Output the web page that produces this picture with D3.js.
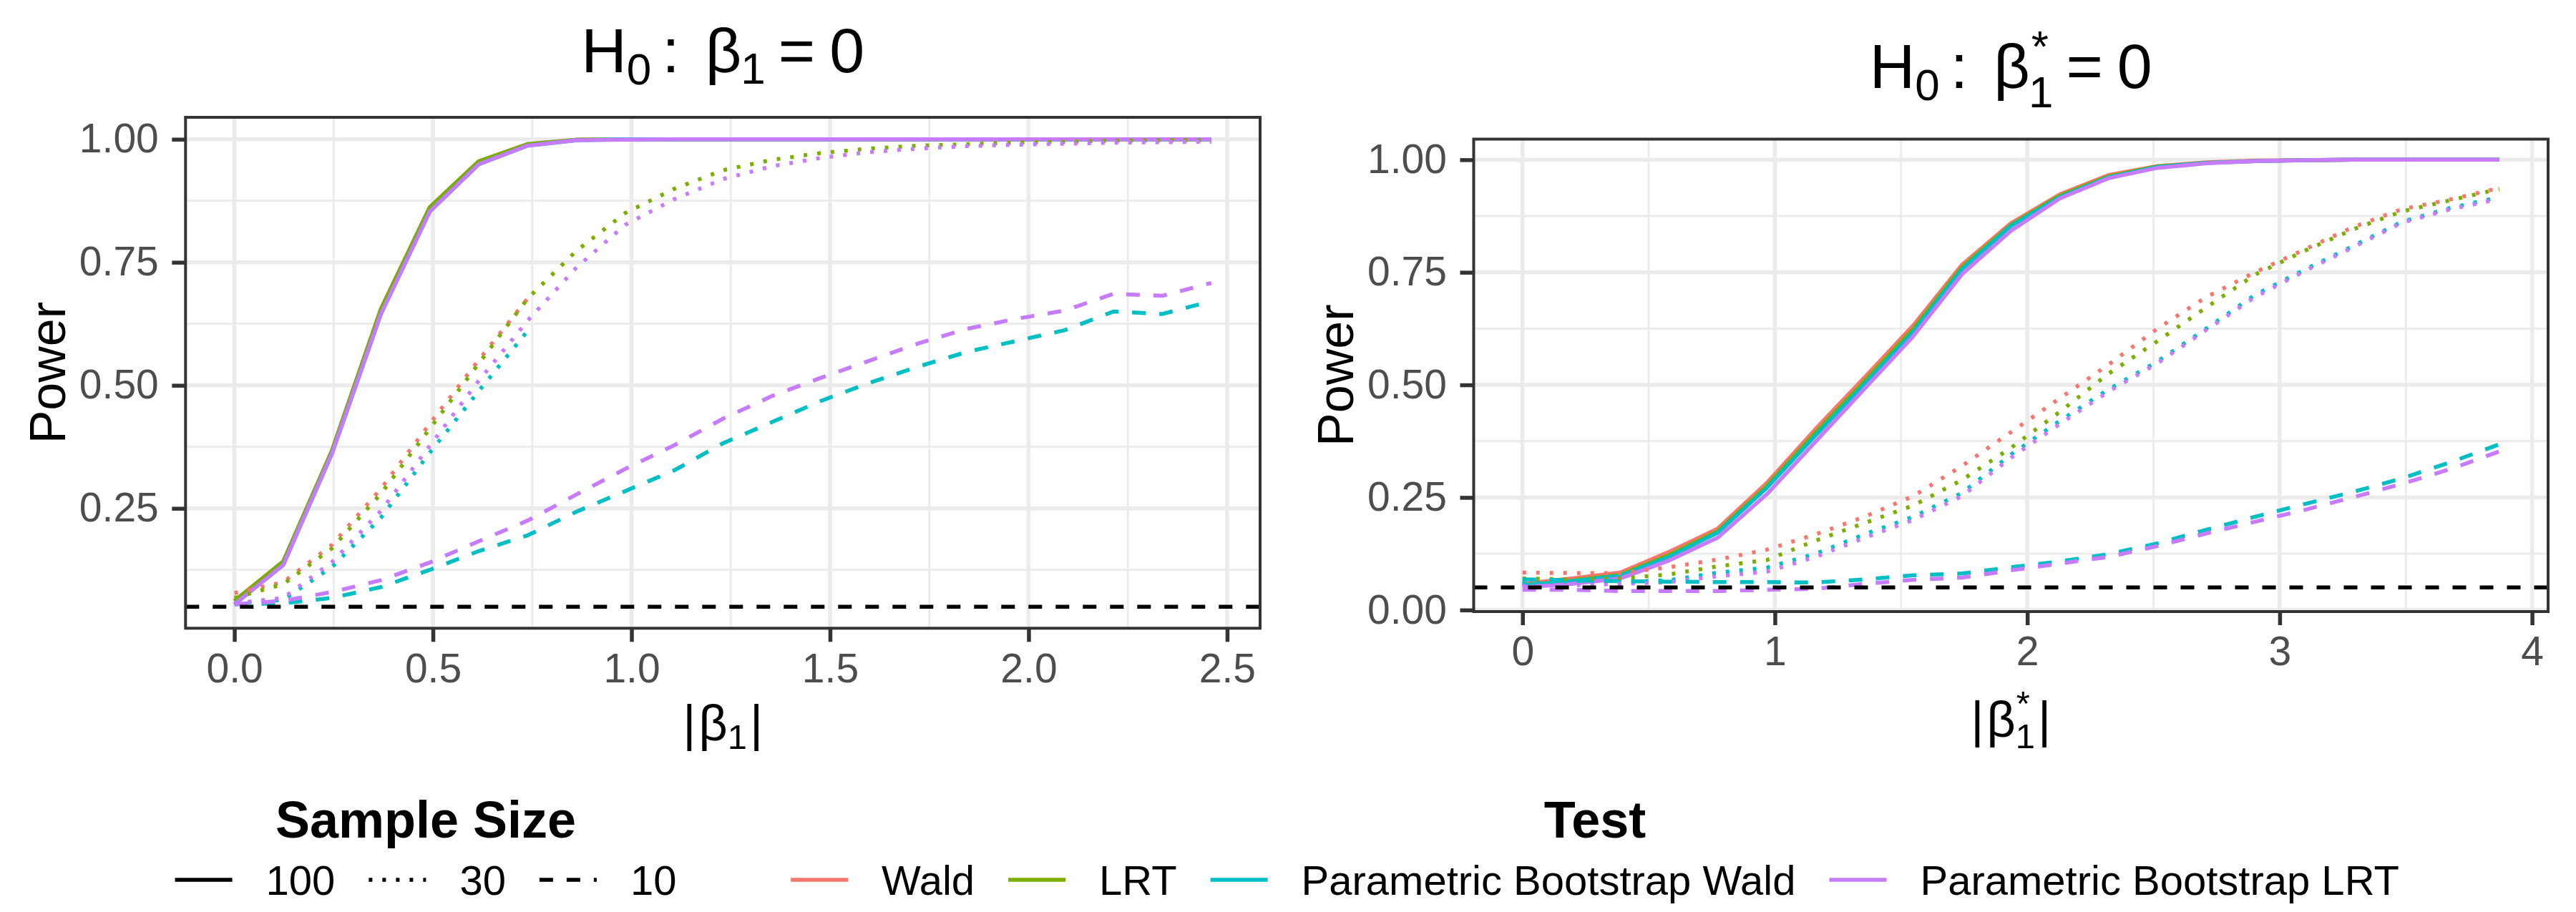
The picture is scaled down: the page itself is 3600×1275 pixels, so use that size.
<!DOCTYPE html>
<html>
<head>
<meta charset="utf-8">
<script src="https://cdn.jsdelivr.net/npm/d3@7"></script>
<style>
  body { margin: 0; background: #fff; }
  svg { display: block; font-family: "Liberation Sans", Arial, Helvetica, sans-serif; }
</style>
</head>
<body>
<svg id="chart" width="3600" height="1275"></svg>
<script>
// x values for each panel
const absBeta1 = [0.000, 0.123, 0.246, 0.369, 0.492, 0.615, 0.738, 0.861, 0.984, 1.107, 1.230,
                  1.353, 1.476, 1.599, 1.722, 1.845, 1.968, 2.091, 2.214, 2.337, 2.460];
const absBeta1Star = [0.0000, 0.1935, 0.3870, 0.5805, 0.7740, 0.9675, 1.1610, 1.3545, 1.5480, 1.7415, 1.9350,
                      2.1285, 2.3220, 2.5155, 2.7090, 2.9025, 3.0960, 3.2895, 3.4830, 3.6765, 3.8700];

const tests = ["Wald", "LRT", "Parametric Bootstrap Wald", "Parametric Bootstrap LRT"];
const sampleSizes = ["100", "30", "10"];
const alpha = 0.05;

// Left panel: H0 beta1 = 0
const leftWald100  = [0.062, 0.142, 0.368, 0.655, 0.862, 0.955, 0.990, 0.999, 1.000, 1.000, 1.000, 1.000, 1.000, 1.000, 1.000, 1.000, 1.000, 1.000, 1.000, 1.000, 1.000];
const leftLRT100   = [0.062, 0.142, 0.368, 0.655, 0.862, 0.955, 0.990, 0.999, 1.000, 1.000, 1.000, 1.000, 1.000, 1.000, 1.000, 1.000, 1.000, 1.000, 1.000, 1.000, 1.000];
const leftPBW100   = [0.055, 0.135, 0.362, 0.645, 0.853, 0.949, 0.987, 0.998, 1.000, 1.000, 1.000, 1.000, 1.000, 1.000, 1.000, 1.000, 1.000, 1.000, 1.000, 1.000, 1.000];
const leftPBLRT100 = [0.055, 0.135, 0.362, 0.645, 0.853, 0.949, 0.987, 0.998, 0.999, 1.000, 1.000, 1.000, 1.000, 1.000, 1.000, 1.000, 1.000, 1.000, 1.000, 1.000, 1.000];
const leftWald30   = [0.078, 0.100, 0.176, 0.290, 0.422, 0.551, 0.676];
const leftLRT30    = [0.068, 0.096, 0.169, 0.280, 0.412, 0.544, 0.676, 0.773, 0.850, 0.899, 0.937, 0.958, 0.972, 0.981, 0.987, 0.990, 0.993, 0.995, 0.997, 0.998, 0.998];
const leftPBW30    = [0.057, 0.064, 0.131, 0.231, 0.363, 0.488, 0.610];
const leftPBLRT30  = [0.057, 0.068, 0.141, 0.245, 0.377, 0.509, 0.631, 0.739, 0.826, 0.878, 0.919, 0.945, 0.962, 0.974, 0.981, 0.986, 0.989, 0.991, 0.993, 0.994, 0.995];
const leftPBW10    = [0.055, 0.057, 0.068, 0.090, 0.125, 0.163, 0.195, 0.243, 0.285, 0.327, 0.382, 0.425, 0.468, 0.505, 0.538, 0.568, 0.590, 0.612, 0.650, 0.645, 0.671];
const leftPBLRT10  = [0.055, 0.062, 0.080, 0.104, 0.140, 0.183, 0.225, 0.278, 0.330, 0.378, 0.432, 0.478, 0.515, 0.550, 0.585, 0.615, 0.635, 0.652, 0.686, 0.682, 0.708];

// Right panel: H0 beta1* = 0
const rightWald100  = [0.058, 0.070, 0.083, 0.129, 0.181, 0.282, 0.402, 0.516, 0.632, 0.767, 0.859, 0.923, 0.966, 0.986, 0.994, 0.998, 0.999, 1.000, 1.000, 1.000, 1.000];
const rightLRT100   = [0.055, 0.065, 0.078, 0.122, 0.175, 0.275, 0.394, 0.508, 0.624, 0.761, 0.855, 0.920, 0.963, 0.985, 0.993, 0.997, 0.999, 1.000, 1.000, 1.000, 1.000];
const rightPBW100   = [0.055, 0.064, 0.076, 0.118, 0.172, 0.271, 0.388, 0.502, 0.618, 0.757, 0.853, 0.917, 0.961, 0.984, 0.993, 0.997, 0.999, 1.000, 1.000, 1.000, 1.000];
const rightPBLRT100 = [0.050, 0.058, 0.070, 0.110, 0.161, 0.257, 0.374, 0.491, 0.608, 0.746, 0.842, 0.914, 0.959, 0.982, 0.992, 0.997, 0.999, 1.000, 1.000, 1.000, 1.000];
const rightWald30   = [0.083, 0.082, 0.082, 0.095, 0.112, 0.134, 0.168, 0.207, 0.253, 0.320, 0.395, 0.470, 0.545, 0.625, 0.695, 0.750, 0.800, 0.850, 0.890, 0.912, 0.937];
const rightLRT30    = [0.070, 0.068, 0.070, 0.079, 0.097, 0.111, 0.154, 0.193, 0.232, 0.289, 0.360, 0.440, 0.525, 0.597, 0.672, 0.745, 0.797, 0.845, 0.885, 0.910, 0.935];
const rightPBW30    = [0.060, 0.060, 0.062, 0.066, 0.083, 0.094, 0.125, 0.168, 0.207, 0.260, 0.345, 0.420, 0.490, 0.552, 0.625, 0.700, 0.755, 0.808, 0.862, 0.893, 0.917];
const rightPBLRT30  = [0.053, 0.055, 0.058, 0.062, 0.075, 0.085, 0.118, 0.160, 0.200, 0.253, 0.338, 0.413, 0.485, 0.548, 0.622, 0.695, 0.752, 0.805, 0.860, 0.890, 0.913];
const rightPBW10    = [0.068, 0.066, 0.064, 0.063, 0.062, 0.062, 0.061, 0.068, 0.077, 0.081, 0.095, 0.108, 0.124, 0.148, 0.178, 0.207, 0.235, 0.262, 0.292, 0.328, 0.368];
const rightPBLRT10  = [0.045, 0.045, 0.042, 0.042, 0.042, 0.045, 0.047, 0.058, 0.067, 0.072, 0.088, 0.103, 0.118, 0.142, 0.170, 0.196, 0.222, 0.250, 0.280, 0.313, 0.352];

// Tick values
const leftXTicks = [0, 0.5, 1, 1.5, 2, 2.5];
const leftXMinor = [0.25, 0.75, 1.25, 1.75, 2.25];
const leftYTicks = [0.25, 0.5, 0.75, 1];
const rightXTicks = [0, 1, 2, 3, 4];
const rightXMinor = [0.5, 1.5, 2.5, 3.5];
const rightYTicks = [0, 0.25, 0.5, 0.75, 1];
const yMinor = [0.125, 0.375, 0.625, 0.875];

const colors = d3.scaleOrdinal()
    .domain(tests)
    .range(["#F8766D", "#7CAE00", "#00BFC4", "#C77CFF"]);

const dashes = { "100": null, "30": "5,14", "10": "19,19" };

const LINE_W = 5.5;
const svg = d3.select("#chart");

function series(xs, test, size, values) {
    return { test, size, points: values.map((v, i) => ({ x: xs[i], y: v })) };
}

const leftSeries = [
    series(absBeta1, "Wald", "100", leftWald100),
    series(absBeta1, "LRT", "100", leftLRT100),
    series(absBeta1, "Parametric Bootstrap Wald", "100", leftPBW100),
    series(absBeta1, "Parametric Bootstrap LRT", "100", leftPBLRT100),
    series(absBeta1, "Wald", "30", leftWald30),
    series(absBeta1, "LRT", "30", leftLRT30),
    series(absBeta1, "Parametric Bootstrap Wald", "30", leftPBW30),
    series(absBeta1, "Parametric Bootstrap LRT", "30", leftPBLRT30),
    series(absBeta1, "Parametric Bootstrap Wald", "10", leftPBW10),
    series(absBeta1, "Parametric Bootstrap LRT", "10", leftPBLRT10)
];

const rightSeries = [
    series(absBeta1Star, "Wald", "100", rightWald100),
    series(absBeta1Star, "LRT", "100", rightLRT100),
    series(absBeta1Star, "Parametric Bootstrap Wald", "100", rightPBW100),
    series(absBeta1Star, "Parametric Bootstrap LRT", "100", rightPBLRT100),
    series(absBeta1Star, "Wald", "30", rightWald30),
    series(absBeta1Star, "LRT", "30", rightLRT30),
    series(absBeta1Star, "Parametric Bootstrap Wald", "30", rightPBW30),
    series(absBeta1Star, "Parametric Bootstrap LRT", "30", rightPBLRT30),
    series(absBeta1Star, "Parametric Bootstrap Wald", "10", rightPBW10),
    series(absBeta1Star, "Parametric Bootstrap LRT", "10", rightPBLRT10)
];

// Draw a plotmath-like label from pieces: {t, size, dx, dy}
function mathText(g, x, y, baseSize, pieces, anchor) {
    const text = g.append("text")
        .attr("x", x)
        .attr("y", y)
        .attr("text-anchor", anchor || "middle")
        .attr("font-size", baseSize)
        .attr("fill", "#000");
    pieces.forEach(p => {
        text.append("tspan")
            .attr("font-size", p.size || baseSize)
            .attr("dx", p.dx || 0)
            .attr("dy", p.dy || 0)
            .text(p.t);
    });
    return text;
}

function drawPanel(cfg) {
    const g = svg.append("g");

    const x = d3.scaleLinear().domain(cfg.xDomain).range([cfg.left, cfg.right]);
    const y = d3.scaleLinear().domain(cfg.yDomain).range([cfg.bottom, cfg.top]);

    // Grid lines (minor first, then major)
    const grid = g.append("g").attr("stroke", "#EBEBEB");
    grid.selectAll(".minor-y").data(yMinor).join("line")
        .attr("class", "minor-y")
        .attr("x1", cfg.left).attr("x2", cfg.right)
        .attr("y1", d => y(d)).attr("y2", d => y(d))
        .attr("stroke-width", 2.8);
    grid.selectAll(".minor-x").data(cfg.xMinor).join("line")
        .attr("class", "minor-x")
        .attr("y1", cfg.top).attr("y2", cfg.bottom)
        .attr("x1", d => x(d)).attr("x2", d => x(d))
        .attr("stroke-width", 2.8);
    grid.selectAll(".major-y").data(cfg.yTicks).join("line")
        .attr("class", "major-y")
        .attr("x1", cfg.left).attr("x2", cfg.right)
        .attr("y1", d => y(d)).attr("y2", d => y(d))
        .attr("stroke-width", 5.6);
    grid.selectAll(".major-x").data(cfg.xTicks).join("line")
        .attr("class", "major-x")
        .attr("y1", cfg.top).attr("y2", cfg.bottom)
        .attr("x1", d => x(d)).attr("x2", d => x(d))
        .attr("stroke-width", 5.6);

    // Power curves
    const line = d3.line().x(d => x(d.x)).y(d => y(d.y));
    g.append("g").selectAll("path")
        .data(cfg.series)
        .join("path")
        .attr("d", d => line(d.points))
        .attr("fill", "none")
        .attr("stroke", d => colors(d.test))
        .attr("stroke-width", LINE_W)
        .attr("stroke-dasharray", d => dashes[d.size])
        .attr("stroke-linejoin", "round");

    // Nominal level
    g.append("line")
        .attr("x1", cfg.left).attr("x2", cfg.right)
        .attr("y1", y(alpha)).attr("y2", y(alpha))
        .attr("stroke", "#000")
        .attr("stroke-width", LINE_W)
        .attr("stroke-dasharray", "19,19");

    // Panel border
    g.append("rect")
        .attr("x", cfg.left).attr("y", cfg.top)
        .attr("width", cfg.right - cfg.left)
        .attr("height", cfg.bottom - cfg.top)
        .attr("fill", "none")
        .attr("stroke", "#333333")
        .attr("stroke-width", 4);

    // Axes
    const xAxis = g.append("g")
        .attr("transform", `translate(0,${cfg.bottom})`)
        .call(d3.axisBottom(x).tickValues(cfg.xTicks).tickFormat(cfg.xFormat)
            .tickSize(19).tickPadding(16));
    const yAxis = g.append("g")
        .attr("transform", `translate(${cfg.left},0)`)
        .call(d3.axisLeft(y).tickValues(cfg.yTicks).tickFormat(d3.format(".2f"))
            .tickSize(19).tickPadding(18.5));
    [xAxis, yAxis].forEach(a => {
        a.select(".domain").remove();
        a.selectAll(".tick line").attr("stroke", "#333333").attr("stroke-width", 5.5);
        a.selectAll(".tick text")
            .attr("fill", "#4D4D4D")
            .attr("font-size", 57)
            .attr("font-family", "Liberation Sans, Arial, sans-serif");
    });

    // Axis titles
    g.append("text")
        .attr("transform", `translate(${cfg.yTitleX},${(cfg.top + cfg.bottom) / 2}) rotate(-90)`)
        .attr("text-anchor", "middle")
        .attr("font-size", 70)
        .text("Power");

    const cx = (cfg.left + cfg.right) / 2;
    mathText(g, cx, cfg.titleY, 88, cfg.titlePieces);
    mathText(g, cx, cfg.xTitleY, 70, cfg.xTitlePieces);
}

drawPanel({
    left: 259.3, right: 1761, top: 164, bottom: 878.3,
    xDomain: [-0.123, 2.583], yDomain: [0.0064, 1.0446],
    xTicks: leftXTicks, xMinor: leftXMinor, yTicks: leftYTicks,
    xFormat: d3.format(".1f"),
    series: leftSeries,
    yTitleX: 91,
    titleY: 101,
    titlePieces: [
        { t: "H" },
        { t: "0", size: 62, dy: 17 },
        { t: ":", dx: 15, dy: -17 },
        { t: "β", dx: 36 },
        { t: "1", size: 62, dx: -1, dy: 16 },
        { t: "=", dx: 18, dy: -16 },
        { t: "0", dx: 20 }
    ],
    xTitleY: 1035,
    xTitlePieces: [
        { t: "|" },
        { t: "β", dx: 4 },
        { t: "1", size: 49, dx: 0, dy: 12 },
        { t: "|", dx: 4, dy: -12 }
    ]
});

drawPanel({
    left: 2059.5, right: 3561, top: 194.5, bottom: 855,
    xDomain: [-0.1935, 4.0635], yDomain: [-0.0035, 1.0458],
    xTicks: rightXTicks, xMinor: rightXMinor, yTicks: rightYTicks,
    xFormat: d3.format("d"),
    series: rightSeries,
    yTitleX: 1891,
    titleY: 123,
    titlePieces: [
        { t: "H" },
        { t: "0", size: 62, dy: 17 },
        { t: ":", dx: 15, dy: -17 },
        { t: "β", dx: 36 },
        { t: "*", size: 62, dx: 2, dy: -37 },
        { t: "1", size: 62, dx: -28, dy: 64 },
        { t: "=", dx: 18, dy: -27 },
        { t: "0", dx: 20 }
    ],
    xTitleY: 1030,
    xTitlePieces: [
        { t: "|" },
        { t: "β", dx: 4 },
        { t: "*", size: 49, dx: 1, dy: -30 },
        { t: "1", size: 49, dx: -20, dy: 46 },
        { t: "|", dx: 4, dy: -16 }
    ]
});

// Legends
function drawLegend(center, title, items) {
    const g = svg.append("g");
    const KEY = 80, KEY_GAP = 47, ITEM_GAP = 47;
    const labels = items.map(it => {
        const t = g.append("text")
            .attr("font-size", 58)
            .attr("y", 1251)
            .text(it.label);
        return { t, w: t.node().getComputedTextLength(), it };
    });
    const total = d3.sum(labels, d => KEY + KEY_GAP + d.w) + ITEM_GAP * (labels.length - 1);
    let cursor = center - total / 2;
    labels.forEach(d => {
        g.append("line")
            .attr("x1", cursor).attr("x2", cursor + KEY)
            .attr("y1", 1230).attr("y2", 1230)
            .attr("stroke", d.it.color)
            .attr("stroke-width", LINE_W)
            .attr("stroke-dasharray", d.it.dash);
        d.t.attr("x", cursor + KEY + KEY_GAP);
        cursor += KEY + KEY_GAP + d.w + ITEM_GAP;
    });
    g.append("text")
        .attr("x", center)
        .attr("y", 1171)
        .attr("text-anchor", "middle")
        .attr("font-size", 72)
        .attr("font-weight", "bold")
        .text(title);
}

drawLegend(595, "Sample Size",
    sampleSizes.map(s => ({ label: s, color: "#000", dash: dashes[s] })));
drawLegend(2229, "Test",
    tests.map(t => ({ label: t, color: colors(t), dash: null })));
</script>
</body>
</html>
